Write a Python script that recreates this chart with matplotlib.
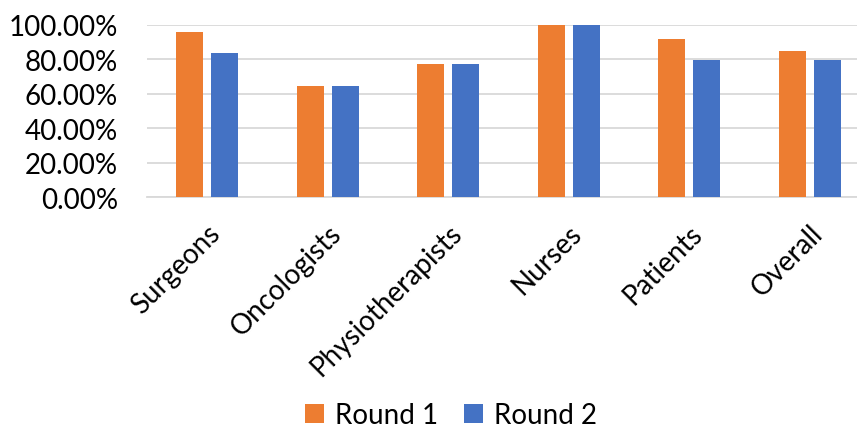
import numpy as np
import matplotlib.pyplot as plt
from matplotlib.ticker import PercentFormatter

# data
groups = ['Surgeons', 'Oncologists', 'Physiotherapists', 'Nurses', 'Patients', 'Overall']
round1 = [95.65, 64.29, 77.27, 100.0, 91.67, 84.5]
round2 = [83.33, 64.29, 77.27, 100.0, 79.17, 79.5]
series_names = ['Round 1', 'Round 2']

ORANGE = '#ED7D31'
BLUE = '#4472C4'

plt.rcParams['font.family'] = ['Lato', 'DejaVu Sans']

fig = plt.figure(figsize=(8.57, 4.31), dpi=100)
# axes runs a bit past the right edge, as in the cropped reference
ax = fig.add_axes([147 / 857, 1 - 198.3 / 431, (870 - 147) / 857, 172.8 / 431])

x = np.arange(len(groups))
w = 0.224
off = 0.145
ax.bar(x - off, round1, w, color=ORANGE, label=series_names[0], zorder=3)
ax.bar(x + off, round2, w, color=BLUE, label=series_names[1], zorder=3)

ax.set_xlim(-0.5, len(groups) - 0.5)
ax.set_ylim(0, 100)
ax.set_yticks(np.arange(0, 101, 20))
ax.yaxis.set_major_formatter(PercentFormatter(decimals=2))
ax.grid(axis='y', color='#D9D9D9', linewidth=1.3, zorder=0)

for s in ['top', 'right', 'left']:
    ax.spines[s].set_visible(False)
ax.spines['bottom'].set_color('#D9D9D9')
ax.spines['bottom'].set_linewidth(1.3)
ax.tick_params(length=0, labelsize=20, colors='black')
ax.tick_params(axis='y', pad=21)
ax.tick_params(axis='x', pad=16)

ax.set_xticks(x)
ax.set_xticklabels(groups, rotation=45, ha='right', rotation_mode='anchor')

fig.legend(loc='center', bbox_to_anchor=(451 / 857, 1 - 416 / 431), ncol=2, frameon=False,
           fontsize=20, handlelength=0.7, handleheight=0.7, handletextpad=0.4,
           columnspacing=0.9, borderpad=0.2)

plt.savefig('out.png', dpi=100)
